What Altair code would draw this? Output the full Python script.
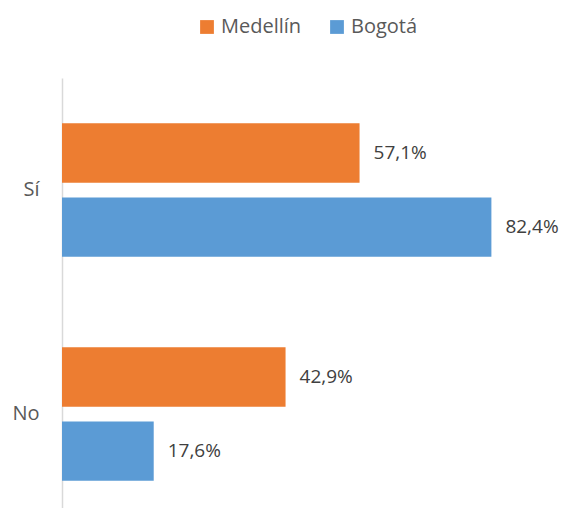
import altair as alt
import pandas as pd

categories = ["Sí", "No"]
series = ["Medellín", "Bogotá"]
medellin = [57.1, 42.9]
bogota = [82.4, 17.6]
colors = ["#ED7D31", "#5B9BD5"]

rows = []
for i, c in enumerate(categories):
    for s, vals in zip(series, [medellin, bogota]):
        v = vals[i]
        rows.append({"cat": c, "serie": s, "val": v,
                     "label": f"{v:.1f}".replace(".", ",") + "%"})
df = pd.DataFrame(rows)

FONT = "Open Sans"

y_enc = alt.Y("cat:N", sort=categories, title=None,
              scale=alt.Scale(paddingInner=0.404, paddingOuter=0.162, align=0.625),
              axis=alt.Axis(ticks=False, tickSize=0, labelPadding=23, labelFontSize=20,
                            labelColor="#595959", labelFont=FONT, domainColor="#D9D9D9",
                            domainWidth=1.5, grid=False))
yoff = alt.YOffset("serie:N", sort=series, scale=alt.Scale(paddingInner=0.2, paddingOuter=0))
x_enc = alt.X("val:Q", scale=alt.Scale(domain=[0, 90], nice=False), axis=None)

base = alt.Chart(df)
bars = base.mark_bar().encode(
    y=y_enc, yOffset=yoff, x=x_enc,
    color=alt.Color("serie:N", sort=series, title=None,
                    scale=alt.Scale(domain=series, range=colors),
                    legend=alt.Legend(orient="none", legendX=135, legendY=-61,
                                      direction="horizontal", symbolType="square",
                                      symbolSize=190, symbolStrokeWidth=0,
                                      labelFontSize=20, labelFont=FONT,
                                      labelColor="#595959", labelOffset=4,
                                      columnPadding=25)),
)
texts = base.mark_text(align="left", baseline="middle", dx=14, fontSize=19,
                       font=FONT, color="#404040").encode(
    y=alt.Y("cat:N", sort=categories), yOffset=yoff, x=x_enc, text="label:N")

chart = alt.layer(bars, texts).properties(
    width=469, height=430,
    autosize=alt.AutoSizeParams(type="none"),
    padding={"left": 54, "top": 70, "right": 30, "bottom": 0},
).configure_view(stroke=None)

chart.save("out.html", embed_options={"renderer": "svg", "actions": False})
